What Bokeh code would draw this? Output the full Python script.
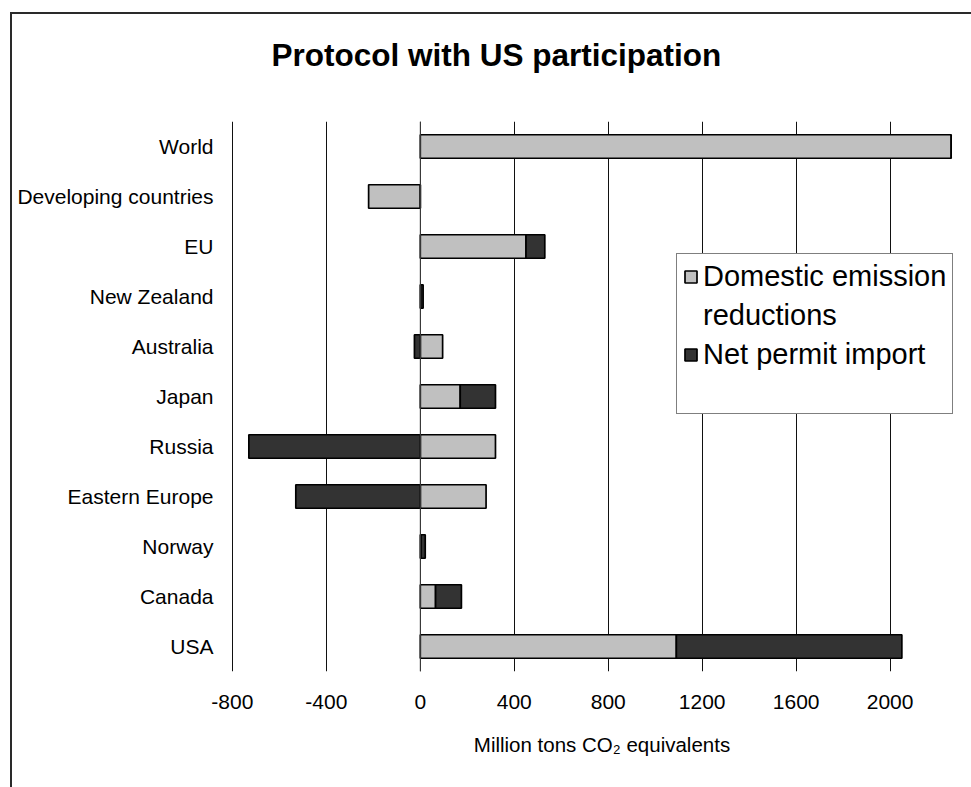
from bokeh.plotting import figure
from bokeh.models import (FactorRange, Range1d, FixedTicker, Legend, LegendItem,
                          Span, ColumnDataSource, Title)
from bokeh.embed import file_html
from bokeh.resources import INLINE

# ---------------- data ----------------
countries = ["World", "Developing countries", "EU", "New Zealand", "Australia",
             "Japan", "Russia", "Eastern Europe", "Norway", "Canada", "USA"]
domestic = [2260, -220, 450, 2, 95, 170, 320, 280, 3, 65, 1090]
net_import = [0, 0, 80, 10, -25, 150, -730, -530, 18, 110, 960]
x_ticks = [-800, -400, 0, 400, 800, 1200, 1600, 2000]
x_tick_labels = ["-800", "-400", "0", "400", "800", "1200", "1600", "2000"]

title_text = "Protocol with US participation"
x_label = "Million tons CO\u2082 equivalents"
series_names = ["Domestic emission", "reductions", "Net permit import"]

# ---------------- stacking (positives and negatives stacked separately) ----
dom_left, dom_right, imp_left, imp_right = [], [], [], []
for d, m in zip(domestic, net_import):
    dom_left.append(min(d, 0))
    dom_right.append(max(d, 0))
    if m >= 0:
        l = max(d, 0)
        imp_left.append(l)
        imp_right.append(l + m)
    else:
        r = min(d, 0)
        imp_left.append(r + m)
        imp_right.append(r)

src = ColumnDataSource(dict(country=countries, dl=dom_left, dr=dom_right,
                            il=imp_left, ir=imp_right))

FONT = "Liberation Sans"

p = figure(width=961, height=775, title=None,
           y_range=FactorRange(factors=list(reversed(countries))),
           x_range=Range1d(-808, 2355),
           output_backend="svg", toolbar_location=None,
           min_border_left=218, min_border_right=0,
           min_border_top=0, min_border_bottom=118)
p.margin = (12, 0, 0, 10)
p.styles = {"border-left": "2px solid #2a2a2a", "border-top": "2px solid #2a2a2a"}
p.outline_line_color = None
p.background_fill_color = "white"
p.border_fill_color = "white"

# spacer between title and frame, then the title itself
p.add_layout(Title(text=" ", text_font_size="10px", standoff=15), "above")
p.add_layout(Title(text=title_text, text_font=FONT, text_font_size="31.5px",
                   text_font_style="bold", text_color="black",
                   align="left", offset=41, standoff=41), "above")

BAR_H = 0.47
r_dom = p.hbar(y="country", left="dl", right="dr", height=BAR_H, source=src,
               fill_color="#C0C0C0", line_color="black", line_width=1.7)
r_imp = p.hbar(y="country", left="il", right="ir", height=BAR_H, source=src,
               fill_color="#333333", line_color="black", line_width=1.7)

p.add_layout(Span(location=0, dimension="height", line_color="#444444",
                  line_width=1), "center")

# x axis
xa = p.xaxis[0]
xa.ticker = FixedTicker(ticks=x_ticks)
xa.major_label_overrides = dict(zip(x_ticks, x_tick_labels))
xa.axis_line_color = None
xa.major_tick_line_color = None
xa.minor_tick_line_color = None
xa.major_tick_out = 0
xa.major_tick_in = 0
xa.major_label_text_font = FONT
xa.major_label_text_font_size = "21px"
xa.major_label_text_color = "black"
xa.major_label_standoff = 23
xa.axis_label = x_label
xa.axis_label_text_font = FONT
xa.axis_label_text_font_size = "20.5px"
xa.axis_label_text_font_style = "normal"
xa.axis_label_text_color = "black"
xa.axis_label_standoff = 21

# y axis
ya = p.yaxis[0]
ya.axis_line_color = None
ya.major_tick_line_color = None
ya.minor_tick_line_color = None
ya.major_tick_out = 0
ya.major_tick_in = 0
ya.major_label_text_font = FONT
ya.major_label_text_font_size = "21px"
ya.major_label_text_color = "black"
ya.major_label_standoff = 17

p.xgrid.ticker = FixedTicker(ticks=x_ticks)
p.xgrid.grid_line_color = "#111111"
p.xgrid.grid_line_width = 1
p.ygrid.grid_line_color = None

legend = Legend(items=[LegendItem(label=series_names[0], renderers=[r_dom]),
                       LegendItem(label=series_names[1], renderers=[]),
                       LegendItem(label=series_names[2], renderers=[r_imp]),
                       LegendItem(label=" ", renderers=[])],
                location=(446, 257))
legend.label_text_font = FONT
legend.label_text_font_size = "29px"
legend.label_text_color = "black"
legend.glyph_width = 15
legend.glyph_height = 15
legend.label_standoff = 5
legend.label_height = 30
legend.padding = 6
legend.spacing = 6
legend.margin = 0
legend.border_line_color = "black"
legend.border_line_width = 1
legend.background_fill_color = "white"
legend.background_fill_alpha = 1
p.add_layout(legend, "center")

open("out.html", "w").write(file_html(p, INLINE))
